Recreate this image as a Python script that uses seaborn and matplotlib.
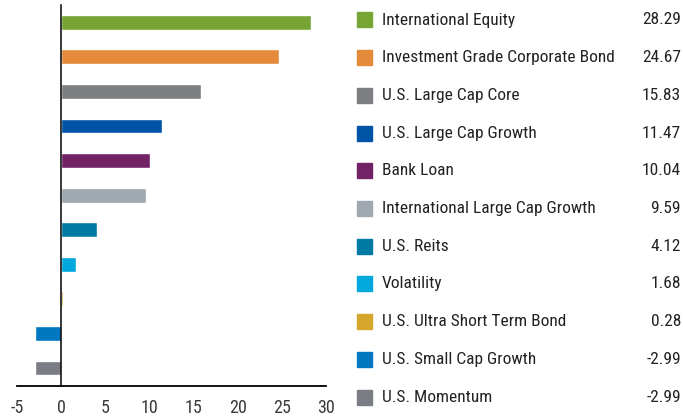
import matplotlib
matplotlib.use("Agg")
import matplotlib.pyplot as plt
import seaborn as sns
import pandas as pd
from matplotlib.patches import Rectangle

categories = [
    "International Equity",
    "Investment Grade Corporate Bond",
    "U.S. Large Cap Core",
    "U.S. Large Cap Growth",
    "Bank Loan",
    "International Large Cap Growth",
    "U.S. Reits",
    "Volatility",
    "U.S. Ultra Short Term Bond",
    "U.S. Small Cap Growth",
    "U.S. Momentum",
]
values = [28.29, 24.67, 15.83, 11.47, 10.04, 9.59, 4.12, 1.68, 0.28, -2.99, -2.99]
colors = [
    "#76A535", "#E38B3A", "#7D7E82", "#0054A6", "#722366", "#9FA8B0",
    "#0079A3", "#00A8DE", "#D4A72C", "#0077C0", "#7A7D84",
]
x_ticks = [-5, 0, 5, 10, 15, 20, 25, 30]

sns.set_style("white")
plt.rcParams["font.family"] = ["Roboto Condensed", "DejaVu Sans"]

df = pd.DataFrame({"category": categories, "value": values})

W, H = 683, 419
fig = plt.figure(figsize=(W / 100, H / 100), dpi=100)

# main bar axes (pixel box: x 16.8..326, y 5..386)
ax = fig.add_axes([16.8 / W, 1 - 386 / H, (326 - 16.8) / W, (386 - 5) / H])
sns.barplot(data=df, x="value", y="category", hue="category",
            palette=colors, width=0.43, legend=False, ax=ax,
            saturation=1, orient="h")
ax.set_xlim(-5, 30)
ax.set_ylim(10.52, -0.5)
ax.set_xticks(x_ticks)
ax.set_xticklabels([str(t) for t in x_ticks])
ax.set_yticks([])
ax.set_xlabel("")
ax.set_ylabel("")
ax.tick_params(axis="x", length=0, pad=9, labelsize=13, colors="#3a3a3a")
for s in ["top", "right"]:
    ax.spines[s].set_visible(False)
ax.spines["left"].set_position(("data", 0))
ax.spines["left"].set_color("black")
ax.spines["left"].set_linewidth(1.1)
ax.spines["bottom"].set_color("black")
ax.spines["bottom"].set_linewidth(1.3)

# legend panel in pixel coordinates
lax = fig.add_axes([0, 0, 1, 1])
lax.set_xlim(0, W)
lax.set_ylim(H, 0)
lax.axis("off")
lax.patch.set_alpha(0)
for i, (name, val, col) in enumerate(zip(categories, values, colors)):
    yc = 20 + i * 37.7
    lax.add_patch(Rectangle((357, yc - 7.5), 15, 15, color=col))
    lax.text(382, yc, name, va="center", ha="left", fontsize=12.5, color="#222222")
    lax.text(681, yc, f"{val:.2f}", va="center", ha="right", fontsize=12.5, color="#222222")

fig.savefig("out.png", dpi=100)
